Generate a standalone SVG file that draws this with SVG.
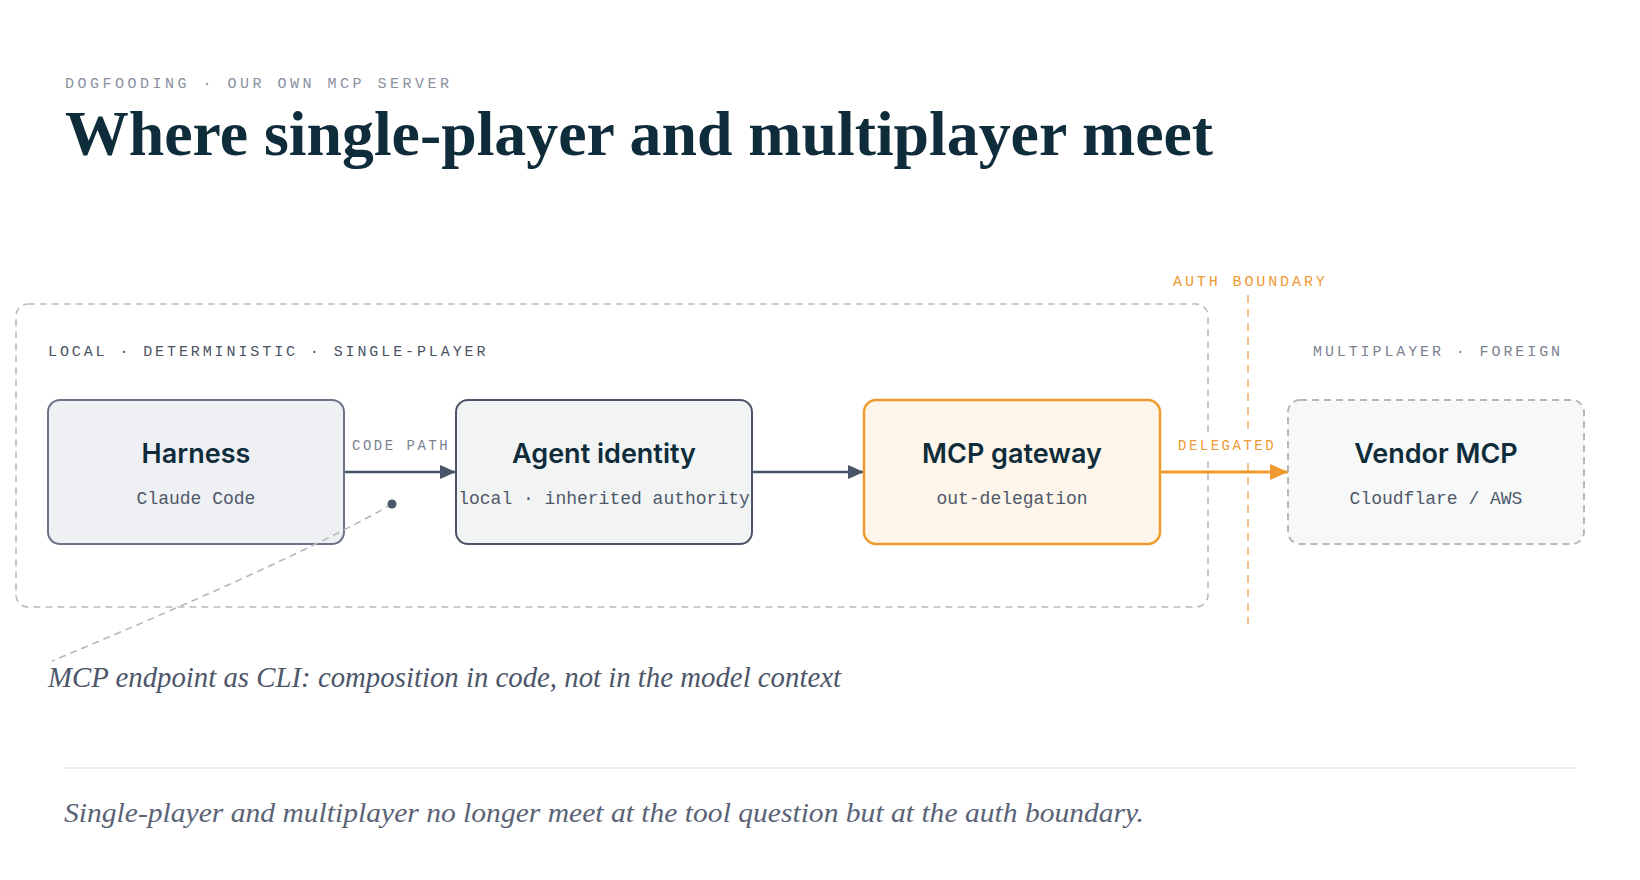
<svg xmlns="http://www.w3.org/2000/svg" width="1640" height="880" viewBox="0 0 1640 880">
  <style>
    .eyebrow { font-family: "Liberation Mono", "DejaVu Sans Mono", monospace; font-size: 15px; letter-spacing: 3.5px; fill: #8a90a0; }
    .title { font-family: "Liberation Serif", "DejaVu Serif", serif; font-weight: 700; font-size: 64px; fill: #0f2c3a; }
    .zone { font-family: "Liberation Mono", "DejaVu Sans Mono", monospace; font-size: 15px; letter-spacing: 2.9px; }
    .edge-label { font-family: "Liberation Mono", "DejaVu Sans Mono", monospace; font-size: 14px; letter-spacing: 2.5px; }
    .node-title { font-family: Inter, "Noto Sans", sans-serif; font-weight: 600; font-size: 27px; fill: #0f2c3a; text-anchor: middle; }
    .node-sub { font-family: "Liberation Mono", "DejaVu Sans Mono", monospace; font-size: 18px; fill: #4f586a; text-anchor: middle; }
    .note { font-family: "Liberation Serif", "DejaVu Serif", serif; font-style: italic; font-size: 29px; fill: #4d566a; }
    .foot { font-family: "Liberation Serif", "DejaVu Serif", serif; font-style: italic; font-size: 28px; fill: #5a6376; }
  </style>
  <defs>
    <marker id="arrowSlate" viewBox="0 0 16 14" refX="16" refY="7" markerWidth="16" markerHeight="14" markerUnits="userSpaceOnUse" orient="auto">
      <path d="M0,0 L16,7 L0,14 Z" fill="#4a5568"/>
    </marker>
    <marker id="arrowOrange" viewBox="0 0 18 16" refX="18" refY="8" markerWidth="18" markerHeight="16" markerUnits="userSpaceOnUse" orient="auto">
      <path d="M0,0 L18,8 L0,16 Z" fill="#ef9a2c"/>
    </marker>
  </defs>

  <rect width="1640" height="880" fill="#ffffff"/>

  <g id="header">
    <text class="eyebrow" x="65" y="88">DOGFOODING · OUR OWN MCP SERVER</text>
    <text class="title" x="65" y="155" textLength="1148" lengthAdjust="spacingAndGlyphs">Where single-player and multiplayer meet</text>
  </g>

  <g id="local-zone">
    <rect x="16" y="304" width="1192" height="303" rx="12" fill="none" stroke="#b9bdc1" stroke-width="1.6" stroke-dasharray="7 5"/>
    <text class="zone" x="48" y="356" fill="#4a5264">LOCAL · DETERMINISTIC · SINGLE-PLAYER</text>
  </g>

  <g id="auth-boundary">
    <line x1="1248" y1="295" x2="1248" y2="624" stroke="#f3c48e" stroke-width="2" stroke-dasharray="8 6"/>
    <text class="zone" x="1173" y="286" fill="#ec9a34">AUTH BOUNDARY</text>
  </g>

  <g id="foreign-zone">
    <text class="zone" x="1313" y="356" fill="#7c8292">MULTIPLAYER · FOREIGN</text>
  </g>

  <g id="connectors">
    <line x1="344" y1="472" x2="456" y2="472" stroke="#4a5568" stroke-width="2.5" marker-end="url(#arrowSlate)"/>
    <text class="edge-label" x="352" y="450" fill="#7c8292">CODE PATH</text>
    <line x1="752" y1="472" x2="864" y2="472" stroke="#4a5568" stroke-width="2.5" marker-end="url(#arrowSlate)"/>
    <line x1="1160" y1="472" x2="1288" y2="472" stroke="#ef9a2c" stroke-width="3" marker-end="url(#arrowOrange)"/>
    <rect x="1170" y="433" width="110" height="27" fill="#ffffff"/>
    <text class="edge-label" x="1178" y="450" fill="#ec9a34">DELEGATED</text>
  </g>

  <g id="harness">
    <rect x="48" y="400" width="296" height="144" rx="12" fill="#eef0f3" stroke="#6b7386" stroke-width="2"/>
    <text class="node-title" x="196" y="463">Harness</text>
    <text class="node-sub" x="196" y="504">Claude Code</text>
  </g>

  <g id="agent-identity">
    <rect x="456" y="400" width="296" height="144" rx="12" fill="#f2f4f4" stroke="#4b5467" stroke-width="2"/>
    <text class="node-title" x="604" y="463">Agent identity</text>
    <text class="node-sub" x="604" y="504">local · inherited authority</text>
  </g>

  <g id="mcp-gateway">
    <rect x="864" y="400" width="296" height="144" rx="12" fill="#fef6ea" stroke="#ef9a2c" stroke-width="2.5"/>
    <text class="node-title" x="1012" y="463">MCP gateway</text>
    <text class="node-sub" x="1012" y="504">out-delegation</text>
  </g>

  <g id="vendor-mcp">
    <rect x="1288" y="400" width="296" height="144" rx="12" fill="#f7f8f8" stroke="#b4b8bc" stroke-width="2" stroke-dasharray="7 5"/>
    <text class="node-title" x="1436" y="463">Vendor MCP</text>
    <text class="node-sub" x="1436" y="504">Cloudflare / AWS</text>
  </g>

  <g id="annotation">
    <path d="M392,504 Q303,556 52,661" fill="none" stroke="#b4b8bc" stroke-width="1.6" stroke-dasharray="7 5"/>
    <circle cx="392" cy="504" r="4.5" fill="#4a5568"/>
    <text class="note" x="48" y="687" textLength="793" lengthAdjust="spacingAndGlyphs">MCP endpoint as CLI: composition in code, not in the model context</text>
  </g>

  <g id="footer">
    <line x1="64" y1="768" x2="1576" y2="768" stroke="#e4e6e9" stroke-width="1.5"/>
    <text class="foot" x="64" y="822" textLength="1080" lengthAdjust="spacingAndGlyphs">Single-player and multiplayer no longer meet at the tool question but at the auth boundary.</text>
  </g>
</svg>
